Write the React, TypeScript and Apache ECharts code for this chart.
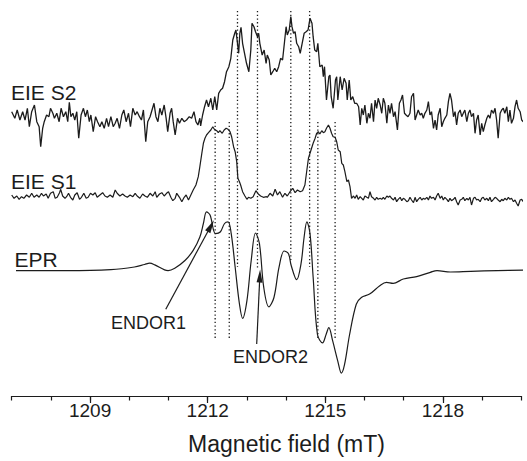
import React, { useEffect, useRef } from "react";
import * as echarts from "echarts";

// Field (mT) vs. intensity (arb. units, baseline-relative)
const S2: [number, number][] = [
  [1207.0, 6.3], [1207.08, -0.3], [1207.14, 8], [1207.21, -2], [1207.28, 6.3], [1207.34, -2], [1207.4, 9.7], [1207.45, -8.7],
  [1207.51, 6.3], [1207.58, 13], [1207.64, -3.7], [1207.7, -8.7], [1207.74, -28.7], [1207.79, -10.3], [1207.83, -3.7], [1207.89, 3],
  [1207.95, 1.3], [1207.99, 9.7], [1208.05, 4.7], [1208.09, -0.3], [1208.15, 4.7], [1208.21, -3.7], [1208.26, 9.7], [1208.32, 1.3],
  [1208.38, 6.3], [1208.43, -3.7], [1208.47, 15.7], [1208.51, 1.3], [1208.56, 4.7], [1208.61, -2], [1208.66, 6.3], [1208.71, -20.3],
  [1208.77, 3], [1208.83, 9.7], [1208.88, 1.3], [1208.93, 8], [1208.98, -3.7], [1209.02, 3], [1209.08, -13.7], [1209.14, 1.3],
  [1209.19, -3.7], [1209.25, -8.7], [1209.3, -3.7], [1209.36, -10.3], [1209.42, -0.3], [1209.47, -8.7], [1209.53, 1.3], [1209.59, -8.7],
  [1209.64, -5.3], [1209.69, -0.3], [1209.75, -10.3], [1209.81, 3], [1209.86, 8], [1209.92, -3.7], [1209.98, 4.7], [1210.03, -8.7],
  [1210.09, 9.7], [1210.15, 3], [1210.2, 6.3], [1210.26, 1.3], [1210.31, -2], [1210.36, 8], [1210.42, -23.7], [1210.47, -3.7],
  [1210.53, 1.3], [1210.58, 8], [1210.63, 14.7], [1210.68, 1.3], [1210.73, -3.7], [1210.78, 9.7], [1210.83, 3], [1210.89, 13],
  [1210.94, -0.3], [1210.98, -13.7], [1211.04, 4.7], [1211.08, 9.7], [1211.12, -3.7], [1211.17, -17], [1211.23, -0.3], [1211.28, -5.3],
  [1211.34, -0.3], [1211.4, -3.7], [1211.46, -2], [1211.53, 1.3], [1211.59, -0.3], [1211.65, 6.3], [1211.7, -3.7], [1211.75, -7],
  [1211.8, -0.3], [1211.82, -8], [1211.87, 3], [1211.92, 11.3], [1211.97, 18], [1212.02, 11.3], [1212.08, 19.7], [1212.13, 8],
  [1212.18, 21.3], [1212.23, 8], [1212.28, 24.7], [1212.33, 28], [1212.38, 29.7], [1212.43, 36.3], [1212.48, 46.3], [1212.54, 51.3],
  [1212.59, 59.7], [1212.64, 78], [1212.69, 84.7], [1212.72, 88], [1212.76, 74.7], [1212.79, 64.7], [1212.82, 84.7], [1212.85, 90.7],
  [1212.89, 74.7], [1212.94, 64.7], [1212.99, 54.7], [1213.05, 46.3], [1213.1, 68], [1213.13, 94.7], [1213.18, 91.3], [1213.22, 86.3],
  [1213.27, 81.3], [1213.3, 84.7], [1213.33, 74.7], [1213.39, 63], [1213.44, 68], [1213.49, 54.7], [1213.52, 63], [1213.57, 58],
  [1213.61, 43], [1213.66, 46.3], [1213.71, 49.7], [1213.76, 46.3], [1213.81, 51.3], [1213.86, 59.7], [1213.91, 58], [1213.96, 76.3],
  [1214.0, 91.3], [1214.03, 83], [1214.08, 88], [1214.12, 101.3], [1214.15, 91.3], [1214.19, 84.7], [1214.23, 86.3], [1214.27, 74.7],
  [1214.32, 71.3], [1214.36, 64.7], [1214.41, 74.7], [1214.46, 84.7], [1214.51, 86.3], [1214.56, 88], [1214.61, 99.7], [1214.66, 94.7],
  [1214.69, 81.3], [1214.73, 68], [1214.78, 66.3], [1214.81, 74.7], [1214.86, 51.3], [1214.92, 53], [1214.95, 41.3], [1214.98, 51.3],
  [1215.03, 18], [1215.09, 41.3], [1215.12, 43], [1215.15, 21.3], [1215.2, 9.7], [1215.26, 38], [1215.29, 41.3], [1215.32, 18],
  [1215.38, 41.3], [1215.43, 28], [1215.48, 39.7], [1215.53, 34.7], [1215.56, 18], [1215.61, 38], [1215.65, 18], [1215.7, 21.3],
  [1215.75, 14.7], [1215.8, 14.7], [1215.85, 11.3], [1215.89, -7], [1215.93, 9.7], [1215.97, 3], [1216.01, 13], [1216.06, -5.3],
  [1216.1, 4.7], [1216.14, -0.3], [1216.18, 14.7], [1216.23, -3.7], [1216.27, 18], [1216.31, 9.7], [1216.35, 19.7], [1216.4, 13],
  [1216.44, 4.7], [1216.48, 19.7], [1216.52, 14.7], [1216.57, -5.3], [1216.61, 13], [1216.65, 4.7], [1216.69, 14.7], [1216.74, 1.3],
  [1216.78, 6.3], [1216.84, -12], [1216.89, 14.7], [1216.93, 18], [1216.97, 23], [1217.02, 4.7], [1217.06, 3], [1217.11, 1.3],
  [1217.16, 4.7], [1217.2, 21.3], [1217.25, 24.7], [1217.29, -2], [1217.33, 3], [1217.37, 8], [1217.42, 3], [1217.46, 4.7],
  [1217.5, -0.3], [1217.54, 4.7], [1217.59, 8], [1217.63, 16.3], [1217.67, 3], [1217.71, 6.3], [1217.76, -10.3], [1217.8, -2],
  [1217.84, -12], [1217.88, 3], [1217.93, 9.7], [1217.97, -8.7], [1218.01, -3.7], [1218.05, -0.3], [1218.1, 3], [1218.14, 16.3],
  [1218.18, 24.7], [1218.22, 18], [1218.27, 1.3], [1218.31, 6.3], [1218.35, -7], [1218.39, 4.7], [1218.44, 8], [1218.48, 1.3],
  [1218.52, 4.7], [1218.56, 8], [1218.61, -3.7], [1218.65, 4.7], [1218.69, 8], [1218.73, 1.3], [1218.78, 4.7], [1218.82, -15.3],
  [1218.86, -2], [1218.9, 3], [1218.95, -17], [1218.99, -5.3], [1219.03, -13.7], [1219.07, -7], [1219.12, -0.3], [1219.16, 3],
  [1219.2, -0.3], [1219.24, 8], [1219.29, 4.7], [1219.33, 9.7], [1219.37, -2], [1219.41, -20.3], [1219.46, 4.7], [1219.5, 8],
  [1219.54, 9.7], [1219.58, 4.7], [1219.63, 11.3], [1219.67, -3.7], [1219.71, 8], [1219.75, -5.3], [1219.8, -0.3], [1219.84, 11.3],
  [1219.88, 18], [1219.92, 9.7], [1219.97, 6.3], [1220.01, -2], [1220.05, -3.7], [1220.09, -0.3],
];

const S1: [number, number][] = [
  [1207.0, 2], [1207.06, -1.3], [1207.13, 1], [1207.19, -2.3], [1207.25, 0.3], [1207.31, -1.3], [1207.38, 2], [1207.45, -0.3],
  [1207.51, 3.7], [1207.57, -0.3], [1207.64, 2], [1207.7, -0.3], [1207.76, 3.7], [1207.81, 1], [1207.88, 3], [1207.93, -1.3],
  [1207.99, 3.7], [1208.06, 5.3], [1208.11, -1.3], [1208.16, -0.3], [1208.22, 4.3], [1208.25, 7.7], [1208.3, 1], [1208.36, -1.3],
  [1208.4, 0.3], [1208.45, 3.7], [1208.5, -0.3], [1208.56, -3], [1208.61, 2], [1208.67, 4.3], [1208.73, -2.3], [1208.78, -0.3],
  [1208.84, 3.7], [1208.9, -1.3], [1208.95, -0.3], [1209.01, 3.7], [1209.07, 2], [1209.13, 4.3], [1209.18, -0.3], [1209.25, 2],
  [1209.32, 4.3], [1209.38, 1], [1209.44, -0.3], [1209.51, 2], [1209.58, -0.3], [1209.64, 7], [1209.69, 3.7], [1209.76, 1],
  [1209.83, 3], [1209.89, 1], [1209.95, -0.3], [1210.02, 2], [1210.09, 0.3], [1210.15, 3.7], [1210.2, 1], [1210.27, -1.3],
  [1210.34, 3], [1210.4, 1], [1210.46, -0.3], [1210.53, 3.7], [1210.6, 1], [1210.66, 5.3], [1210.7, -0.3], [1210.77, 3],
  [1210.83, 4.3], [1210.89, 1], [1210.95, 3.7], [1211.0, 5.3], [1211.06, -0.3], [1211.11, -3.7], [1211.17, -1.3], [1211.21, 3.7],
  [1211.28, -0.3], [1211.34, -4.7], [1211.4, -0.3], [1211.45, 2], [1211.51, -3], [1211.57, 2], [1211.63, 7], [1211.7, 12],
  [1211.76, 20.3], [1211.8, 30.3], [1211.85, 43.7], [1211.89, 53.7], [1211.93, 58.7], [1211.97, 62], [1212.02, 64.3], [1212.08, 67],
  [1212.13, 70.3], [1212.17, 67.7], [1212.23, 66.3], [1212.27, 64.3], [1212.31, 66.3], [1212.37, 63.7], [1212.42, 67], [1212.47, 68.7],
  [1212.52, 67.7], [1212.57, 65.3], [1212.61, 60.3], [1212.66, 50.3], [1212.7, 45.3], [1212.74, 35.3], [1212.77, 18.7], [1212.81, 15.3],
  [1212.84, 12], [1212.89, 5.3], [1212.95, 1], [1213.0, -2.3], [1213.04, -0.3], [1213.1, -1.3], [1213.16, 0.3], [1213.23, 6.3],
  [1213.29, 3], [1213.35, 1], [1213.42, -0.3], [1213.5, 0.3], [1213.52, -0.3], [1213.59, 3.7], [1213.66, 1], [1213.72, 7.7],
  [1213.78, 2], [1213.84, 5.3], [1213.91, -0.3], [1213.97, 3.7], [1214.03, 1], [1214.1, 5.3], [1214.17, 8.7], [1214.23, 4.3],
  [1214.29, 7], [1214.36, 5.3], [1214.42, 6.3], [1214.48, 12], [1214.53, 27], [1214.57, 38.7], [1214.61, 43.7], [1214.65, 48.7],
  [1214.69, 53.7], [1214.74, 58.7], [1214.78, 63.7], [1214.82, 65.3], [1214.86, 63], [1214.91, 66.3], [1214.95, 64.3], [1214.99, 65.3],
  [1215.03, 68.7], [1215.08, 72], [1215.12, 68.7], [1215.16, 63.7], [1215.2, 60.3], [1215.25, 59.7], [1215.29, 55.3], [1215.33, 47],
  [1215.38, 45.3], [1215.42, 33.7], [1215.46, 32], [1215.5, 25.3], [1215.55, 15.3], [1215.59, 17], [1215.63, 10.3], [1215.67, -1.3],
  [1215.72, 1], [1215.76, -1.3], [1215.8, 2], [1215.84, -2.3], [1215.89, 0.3], [1215.93, -1.3], [1215.97, -3], [1216.01, 1],
  [1216.06, -0.3], [1216.1, -1.3], [1216.14, 5.3], [1216.18, 0.3], [1216.23, -1.3], [1216.27, -3], [1216.31, -0.3], [1216.35, -2.3],
  [1216.4, -1.3], [1216.44, -2.3], [1216.48, -0.3], [1216.52, -2.3], [1216.57, 1], [1216.61, -0.3], [1216.65, 1], [1216.69, -1.3],
  [1216.74, -3], [1216.78, -0.3], [1216.82, -4.7], [1216.86, -2.3], [1216.91, -0.3], [1216.95, -3.7], [1216.99, -1.3], [1217.03, -2.3],
  [1217.08, -4.7], [1217.12, -3.7], [1217.16, -0.3], [1217.2, -3], [1217.25, -5.7], [1217.29, -0.3], [1217.33, -4.7], [1217.37, -2.3],
  [1217.42, -0.3], [1217.46, -3], [1217.5, -1.3], [1217.54, -2.3], [1217.59, -0.3], [1217.63, -3], [1217.67, 1], [1217.71, -1.3],
  [1217.76, -0.3], [1217.8, -3], [1217.84, 1], [1217.88, 3.7], [1217.93, -1.3], [1217.97, 1], [1218.01, -3], [1218.05, -0.3],
  [1218.1, -2.3], [1218.14, -4.7], [1218.18, -1.3], [1218.22, -3.7], [1218.27, -2.3], [1218.31, -0.3], [1218.35, -4.7], [1218.39, -8],
  [1218.44, -3], [1218.48, -2.3], [1218.52, -0.3], [1218.56, -3.7], [1218.61, -1.3], [1218.65, -3], [1218.69, -0.3], [1218.73, -8],
  [1218.78, -1.3], [1218.82, -0.3], [1218.86, -3], [1218.9, -2.3], [1218.95, -4.7], [1218.99, -1.3], [1219.03, -0.3], [1219.07, -3],
  [1219.12, -1.3], [1219.16, -3.7], [1219.2, -0.3], [1219.24, -4.7], [1219.29, -2.3], [1219.33, -0.3], [1219.37, -1.3], [1219.41, -3],
  [1219.46, -4.7], [1219.5, -2.3], [1219.54, -3.7], [1219.58, -1.3], [1219.63, -3], [1219.67, -0.3], [1219.71, -2.3], [1219.75, -1.3],
  [1219.8, -4.7], [1219.84, -3], [1219.88, -6.3], [1219.92, -9], [1219.97, -3], [1220.01, -2.3], [1220.05, -4.7], [1220.09, -1.3],
];

const EPR: [number, number][] = [
  [1207.11, 0.4], [1208.41, 0.4], [1209.53, 1.4], [1210.13, 4], [1210.39, 6.5], [1210.52, 7.8], [1210.65, 6.1], [1210.9, 1.1],
  [1210.99, 0.4], [1211.16, 2.8], [1211.42, 10.5], [1211.63, 20.6], [1211.8, 34], [1211.89, 47.5], [1211.97, 59.2], [1212.06, 56],
  [1212.2, 37.4], [1212.32, 39], [1212.43, 47.5], [1212.52, 49.2], [1212.6, 37.4], [1212.7, 4], [1212.81, -33], [1212.89, -47.3],
  [1213.0, -29.8], [1213.11, 10.5], [1213.22, 38], [1213.32, 27.3], [1213.43, -16.4], [1213.56, -35.9], [1213.69, -26.5], [1213.82, 3.8],
  [1213.95, 20], [1214.06, 17.2], [1214.13, 5.5], [1214.27, -8.7], [1214.38, 7.1], [1214.46, 34], [1214.53, 49.2], [1214.61, 37.4],
  [1214.69, -6.3], [1214.8, -63.5], [1214.93, -71.9], [1215.02, -63.5], [1215.09, -56.7], [1215.19, -70.2], [1215.32, -90.3], [1215.41, -102.1],
  [1215.49, -93.7], [1215.62, -63.5], [1215.79, -33.2], [1215.92, -26.5], [1216.13, -23.1], [1216.39, -14.7], [1216.56, -11.4], [1216.73, -12.4],
  [1216.99, -8], [1217.33, -5.6], [1217.68, -1.3], [1217.85, 0.4], [1218.19, -1], [1218.71, -0.3], [1219.39, 0.4], [1220.12, 1],
];

// vertical stacking offsets of the three spectra
const OFFSET_S2 = 278;
const OFFSET_S1 = 199;
const OFFSET_EPR = 125;

// dotted guide lines: field, top, bottom (axis units)
const DOT_FIELDS = [1212.19, 1212.55, 1212.76, 1213.27, 1214.12, 1214.6, 1214.81, 1215.25];
const DOT_TOP = [274, 274, 385, 385, 385, 385, 274, 274];
const DOT_BOTTOM = [58, 58, 129, 128, 136, 129, 58, 58];

const MAJOR_TICKS = [1209, 1212, 1215, 1218];

const INK = "#1c1c1c";
const FONT = '"Liberation Sans", Arial, sans-serif';

function shift(d: [number, number][], off: number) {
  return d.map(([x, y]) => [x, y + off]);
}

export default function App() {
  const ref = useRef<HTMLDivElement>(null);
  useEffect(() => {
    const chart = echarts.init(ref.current!, null, { renderer: "svg" });
    const traceBase = {
      type: "line",
      xAxisIndex: 0,
      yAxisIndex: 0,
      showSymbol: false,
      symbol: "none",
      clip: false,
      silent: true,
    };
    const dotted = DOT_FIELDS.map((f, i) => ({
      ...traceBase,
      data: [
        [f, DOT_TOP[i]],
        [f, DOT_BOTTOM[i]],
      ],
      lineStyle: { color: INK, width: 1.3, type: [1.3, 2.4] },
    }));
    const option: any = {
      animation: false,
      backgroundColor: "#ffffff",
      grid: { left: 11.7, right: 5.7, top: 0, bottom: 65, containLabel: false },
      xAxis: [
        {
          type: "value",
          min: 1207,
          max: 1220,
          position: "bottom",
          axisLine: { show: true, lineStyle: { color: INK, width: 1.2 } },
          axisTick: { show: true, customValues: MAJOR_TICKS, length: 7, lineStyle: { color: INK, width: 1.2 } },
          axisLabel: {
            show: true,
            customValues: MAJOR_TICKS,
            formatter: (v: number) => String(v),
            margin: 5,
            fontSize: 19,
            fontFamily: FONT,
            color: INK,
          },
          splitLine: { show: false },
        },
        {
          type: "value",
          min: 1207,
          max: 1220,
          interval: 1,
          position: "bottom",
          axisLine: { show: false },
          axisTick: { show: true, length: 4.5, lineStyle: { color: INK, width: 1.2 } },
          axisLabel: { show: false },
          splitLine: { show: false },
        },
      ],
      yAxis: { type: "value", min: 0, max: 396, show: false },
      series: [
        { ...traceBase, data: shift(S2, OFFSET_S2), lineStyle: { color: INK, width: 1.3 } },
        { ...traceBase, data: shift(S1, OFFSET_S1), lineStyle: { color: INK, width: 1.2 } },
        {
          ...traceBase,
          data: shift(EPR, OFFSET_EPR),
          smooth: 0.35,
          lineStyle: { color: INK, width: 1.2 },
          markLine: {
            silent: true,
            symbol: ["none", "triangle"],
            symbolSize: [6, 13],
            label: { show: false },
            lineStyle: { color: INK, width: 1.2, type: "solid" },
            data: [
              [{ coord: [1210.93, 86.8] }, { coord: [1212.08, 170] }],
              [{ coord: [1213.25, 52] }, { coord: [1213.33, 120] }],
            ],
          },
        },
        ...dotted,
      ],
      graphic: [
        { type: "text", x: 11, y: 92, style: { text: "EIE S2", font: `21px ${FONT}`, fill: INK, verticalAlign: "middle", textVerticalAlign: "middle" } },
        { type: "text", x: 11, y: 181, style: { text: "EIE S1", font: `21px ${FONT}`, fill: INK, verticalAlign: "middle", textVerticalAlign: "middle" } },
        { type: "text", x: 14.5, y: 259.5, style: { text: "EPR", font: `21px ${FONT}`, fill: INK, verticalAlign: "middle", textVerticalAlign: "middle" } },
        { type: "text", x: 111, y: 322.7, style: { text: "ENDOR1", font: `18px ${FONT}`, fill: INK, verticalAlign: "middle", textVerticalAlign: "middle" } },
        { type: "text", x: 233, y: 357, style: { text: "ENDOR2", font: `18px ${FONT}`, fill: INK, verticalAlign: "middle", textVerticalAlign: "middle" } },
        {
          type: "text",
          x: 286.5,
          y: 444,
          style: { text: "Magnetic field (mT)", font: `23px ${FONT}`, fill: INK, align: "center", textAlign: "center", verticalAlign: "middle", textVerticalAlign: "middle" },
        },
      ],
    };
    chart.setOption(option);
    return () => chart.dispose();
  }, []);
  return <div ref={ref} style={{ position: "fixed", left: 0, top: 0, width: 527, height: 461, background: "#fff" }} />;
}
